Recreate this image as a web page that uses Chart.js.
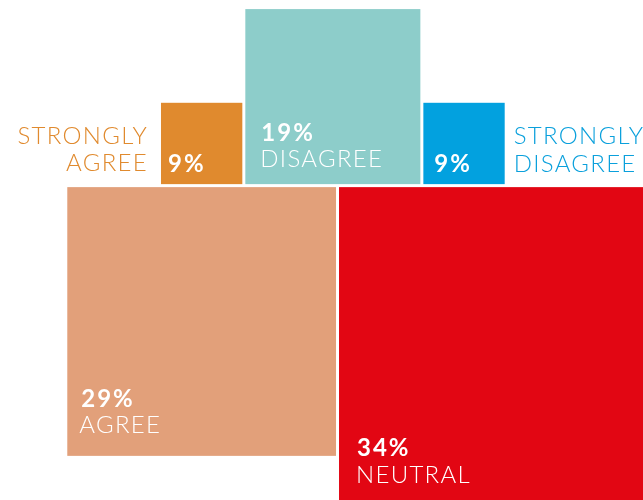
<!DOCTYPE html>
<html>
<head>
<meta charset="utf-8">
<style>
  html, body { margin: 0; padding: 0; background: #ffffff; }
  #wrap { width: 643px; height: 500px; }
</style>
<script src="https://cdn.jsdelivr.net/npm/chart.js@4.4.1/dist/chart.umd.min.js"></script>
</head>
<body>
<div id="wrap"><canvas id="chart" width="643" height="500"></canvas></div>
<script>
// Survey answers: each square's side is proportional to its share
const categories = ['STRONGLY AGREE', 'DISAGREE', 'STRONGLY DISAGREE', 'AGREE', 'NEUTRAL'];
const shares = [9, 19, 9, 29, 34];
const valueLabels = ['9%', '19%', '9%', '29%', '34%'];
const nameLines = [['STRONGLY', 'AGREE'], ['DISAGREE'], ['STRONGLY', 'DISAGREE'], ['AGREE'], ['NEUTRAL']];

// Layout: top row sits on the baseline, bottom row hangs from it
const rowOf = [0, 0, 0, 1, 1];
const rowStart = [10, 0];          // offset of each row along x, in share units
const fills = ['#E08A2E', '#8DCDCA', '#02A1DF', '#E2A07A', '#E20613'];
const GAP = 3;                     // white gutter between squares, px

// Label placement, px from the square's visible left / bottom edge
const labelStyle = [
  { val: [7, -12],    name: { side: 'left',  gap: 13, lines: [-40.3, -13], color: '#E08A2E' } },
  { val: [16, -43.3], name: { inside: true, dx: 15, lines: [-16.7] } },
  { val: [11, -12],   name: { side: 'right', gap: 9,  lines: [-40.3, -12.3], color: '#0AA0DC' } },
  { val: [14, -49],   name: { inside: true, dx: 12, lines: [-22.7] } },
  { val: [18, -46.7], name: { inside: true, dx: 17, lines: [-19.4] } }
];

const FONT_FAMILY = 'Lato, "Open Sans", sans-serif';
const VALUE_FONT = '700 24px ' + FONT_FAMILY;
const NAME_FONT = '300 24px ' + FONT_FAMILY;
const VALUE_SPACING = '2px';
const NAME_SPACING = '1.3px';

// Square extents in share units, laid out row by row
const squares = (() => {
  const cursor = rowStart.slice();
  return shares.map((v, i) => {
    const r = rowOf[i];
    const x0 = cursor[r];
    cursor[r] += v;
    const y0 = r === 0 ? 0 : -v;
    return { x0, x1: x0 + v, y0, y1: y0 + v };
  });
})();

const squarePlugin = {
  id: 'shareSquares',
  beforeDatasetsDraw(chart) {
    const { ctx, scales: { x, y } } = chart;
    ctx.save();
    squares.forEach((s, i) => {
      const left = x.getPixelForValue(s.x0) + GAP / 2;
      const right = x.getPixelForValue(s.x1) - GAP / 2;
      const top = y.getPixelForValue(s.y1) + GAP / 2;
      const bottom = y.getPixelForValue(s.y0) - GAP / 2;
      ctx.fillStyle = fills[i];
      ctx.fillRect(left, top, right - left, bottom - top);

      const st = labelStyle[i];
      ctx.textBaseline = 'alphabetic';
      ctx.textAlign = 'left';
      ctx.fillStyle = '#ffffff';
      ctx.font = VALUE_FONT;
      ctx.letterSpacing = VALUE_SPACING;
      ctx.fillText(valueLabels[i], left + st.val[0], bottom + st.val[1]);

      ctx.font = NAME_FONT;
      ctx.letterSpacing = NAME_SPACING;
      const n = st.name;
      nameLines[i].forEach((line, k) => {
        const by = bottom + n.lines[k];
        if (n.inside) {
          ctx.fillStyle = '#ffffff';
          ctx.textAlign = 'left';
          ctx.fillText(line, left + n.dx, by);
        } else if (n.side === 'left') {
          ctx.fillStyle = n.color;
          ctx.textAlign = 'right';
          ctx.fillText(line, left - n.gap, by);
        } else {
          ctx.fillStyle = n.color;
          ctx.textAlign = 'left';
          ctx.fillText(line, right + n.gap, by);
        }
      });
    });
    ctx.restore();
  }
};

new Chart(document.getElementById('chart'), {
  type: 'scatter',
  data: {
    datasets: [{
      label: 'Share',
      data: squares.map((s, i) => ({ x: (s.x0 + s.x1) / 2, y: (s.y0 + s.y1) / 2, v: shares[i], name: categories[i] })),
      pointRadius: 0,
      pointHoverRadius: 0
    }]
  },
  options: {
    responsive: false,
    animation: false,
    devicePixelRatio: 1,
    layout: { padding: 0 },
    scales: {
      x: { type: 'linear', min: -7.02, max: 61.6, display: false },
      y: { type: 'linear', min: -33.55, max: 19.81, display: false }
    },
    plugins: { legend: { display: false }, tooltip: { enabled: false } }
  },
  plugins: [squarePlugin]
});
</script>
</body>
</html>
